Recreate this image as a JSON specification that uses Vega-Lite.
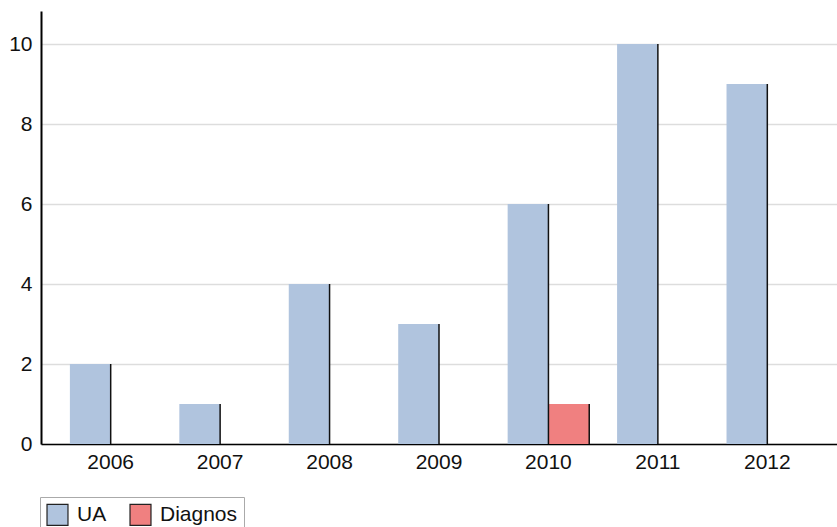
{
  "$schema": "https://vega.github.io/schema/vega-lite/v6.json",
  "autosize": {"type": "none"},
  "width": 796,
  "height": 433,
  "padding": {"left": 41, "top": 11, "right": 0, "bottom": 83},
  "background": "white",
  "config": {
    "view": {"stroke": null},
    "font": "Liberation Sans"
  },
  "data": {
    "values": [
      {"year": "2006", "series": "UA", "value": 2},
      {"year": "2006", "series": "Diagnos", "value": 0},
      {"year": "2007", "series": "UA", "value": 1},
      {"year": "2007", "series": "Diagnos", "value": 0},
      {"year": "2008", "series": "UA", "value": 4},
      {"year": "2008", "series": "Diagnos", "value": 0},
      {"year": "2009", "series": "UA", "value": 3},
      {"year": "2009", "series": "Diagnos", "value": 0},
      {"year": "2010", "series": "UA", "value": 6},
      {"year": "2010", "series": "Diagnos", "value": 1},
      {"year": "2011", "series": "UA", "value": 10},
      {"year": "2011", "series": "Diagnos", "value": 0},
      {"year": "2012", "series": "UA", "value": 9},
      {"year": "2012", "series": "Diagnos", "value": 0}
    ]
  },
  "encoding": {
    "x": {
      "field": "year", "type": "ordinal",
      "scale": {"paddingInner": 0.2545, "paddingOuter": 0.264},
      "axis": {"title": null, "labelAngle": 0, "labelPadding": 7, "labelFont": "Liberation Sans", "labelFontSize": 21, "labelColor": "#111", "ticks": false, "domainColor": "#000", "domainWidth": 1.5, "grid": false}
    },
    "y": {
      "field": "value", "type": "quantitative",
      "scale": {"domain": [0, 10.825], "nice": false, "zero": true},
      "axis": {"title": null, "values": [0, 2, 4, 6, 8, 10], "labelPadding": 9, "labelFont": "Liberation Sans", "labelFontSize": 21, "labelColor": "#111", "ticks": false, "domainColor": "#000", "domainWidth": 2, "gridColor": "#dddddd", "gridWidth": 1.5}
    }
  },
  "layer": [
    {
      "mark": {"type": "bar", "cornerRadius": 0},
      "encoding": {
        "xOffset": {"field": "series", "type": "nominal", "sort": ["UA", "Diagnos"], "scale": {"paddingInner": 0, "paddingOuter": 0}},
        "color": {
          "field": "series", "type": "nominal",
          "sort": ["UA", "Diagnos"],
          "scale": {"domain": ["UA", "Diagnos"], "range": ["#B0C4DE", "#F08080"]},
          "legend": {
            "title": null, "orient": "none", "direction": "horizontal",
            "legendX": -1, "legendY": 486,
            "strokeColor": "#aaaaaa", "padding": 6,
            "symbolType": "square", "symbolSize": 440, "symbolStrokeColor": "#222", "symbolStrokeWidth": 1.2,
            "symbolOpacity": 1,
            "labelFont": "Liberation Sans", "labelFontSize": 21, "labelColor": "#111",
            "columnPadding": 20, "labelOffset": 8
          }
        }
      }
    },
    {
      "mark": {"type": "rule", "color": "#111", "strokeWidth": 1.5},
      "transform": [{"filter": "datum.value > 0 && datum.series == 'UA'"}],
      "encoding": {
        "x": {"field": "year", "type": "ordinal", "bandPosition": 0.5},
        "y2": {"datum": 0}
      }
    },
    {
      "mark": {"type": "rule", "color": "#111", "strokeWidth": 1.5},
      "transform": [{"filter": "datum.value > 0 && datum.series == 'Diagnos'"}],
      "encoding": {
        "x": {"field": "year", "type": "ordinal", "bandPosition": 1},
        "y2": {"datum": 0}
      }
    }
  ]
}
